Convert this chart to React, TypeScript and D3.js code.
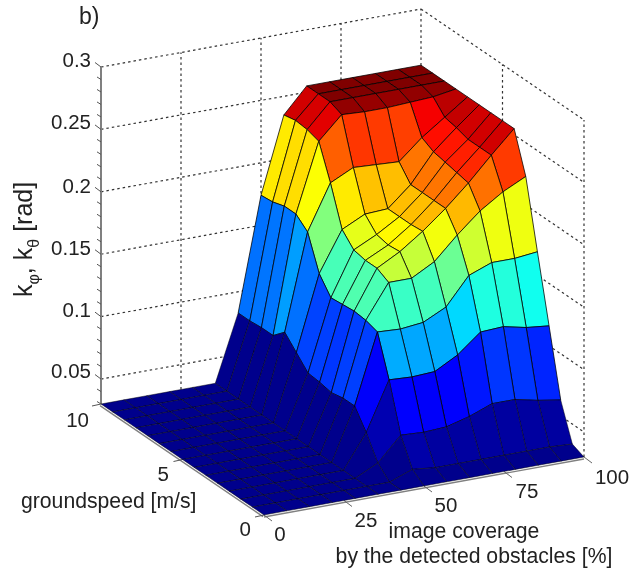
import React from "react";
import * as d3 from "d3";

const coverage = [0, 7.14, 14.29, 21.43, 28.57, 35.71, 42.86, 50, 57.14, 64.29, 71.43, 78.57, 85.71, 92.86, 100];
const speed = [0, 0.714, 1.429, 2.143, 2.857, 3.571, 4.286, 5, 5.714, 6.429, 7.143, 7.857, 8.571, 9.286, 10];

const F = 0.03;
const row0 = [F, F, F, F, F, F, F, F, F, F, F, F, F, F, F];
const row1 = [F, F, F, F, F, F, 0.03, 0.037, 0.035, 0.035, 0.035, 0.035, 0.035, 0.035, 0.034];
const row2 = [F, F, F, F, F, F, 0.039, 0.058, 0.057, 0.058, 0.063, 0.07, 0.07, 0.066, 0.063];
const row3 = [F, F, F, F, F, F, 0.057, 0.096, 0.095, 0.096, 0.106, 0.121, 0.122, 0.118, 0.116];
const row4 = [F, F, F, F, F, F, 0.072, 0.128, 0.127, 0.129, 0.138, 0.16, 0.167, 0.167, 0.169];
const row5 = [F, F, F, F, F, F, 0.072, 0.131, 0.158, 0.158, 0.168, 0.186, 0.202, 0.214, 0.223];
const row6 = [F, F, F, F, F, F, 0.07, 0.132, 0.163, 0.173, 0.186, 0.201, 0.218, 0.237, 0.255];
const row7 = [F, F, F, F, F, F, 0.072, 0.131, 0.163, 0.172, 0.185, 0.201, 0.22, 0.237, 0.255];
const row8 = [F, F, F, F, F, F, 0.073, 0.13, 0.165, 0.174, 0.185, 0.201, 0.222, 0.237, 0.255];
const row9 = [F, F, F, F, F, F, 0.083, 0.143, 0.175, 0.184, 0.185, 0.201, 0.224, 0.24, 0.255];
const row10 = [F, F, F, F, F, F, 0.093, 0.17, 0.206, 0.215, 0.214, 0.213, 0.229, 0.242, 0.255];
const row11 = [F, F, F, F, F, F, 0.084, 0.178, 0.233, 0.251, 0.25, 0.25, 0.251, 0.252, 0.255];
const row12 = [F, F, F, F, F, F, 0.084, 0.178, 0.236, 0.255, 0.255, 0.255, 0.255, 0.255, 0.255];
const row13 = [F, F, F, F, F, F, 0.083, 0.175, 0.237, 0.255, 0.255, 0.255, 0.255, 0.255, 0.255];
const row14 = [F, F, F, F, F, F, 0.083, 0.174, 0.235, 0.255, 0.255, 0.255, 0.255, 0.255, 0.255];
const surface = [row0, row1, row2, row3, row4, row5, row6, row7, row8, row9, row10, row11, row12, row13, row14];

const xTicks = [0, 25, 50, 75, 100];
const yTicks = [0, 5, 10];
const zMajor = [0.05, 0.1, 0.15, 0.2, 0.25, 0.3];
const zMinor = [0.03, 0.04, 0.06, 0.07, 0.08, 0.09, 0.11, 0.12, 0.13, 0.14, 0.16, 0.17, 0.18, 0.19, 0.21, 0.22, 0.23, 0.24, 0.26, 0.27, 0.28, 0.29];
const zLabels = ["0.05", "0.1", "0.15", "0.2", "0.25", "0.3"];

const cMin = 0.03;
const cMax = 0.255;
const jet = d3
  .scaleLinear<string>()
  .domain([0, 0.125, 0.375, 0.625, 0.875, 1].map((t) => cMin + t * (cMax - cMin)))
  .range(["rgb(0,0,140)", "rgb(0,0,255)", "rgb(0,255,255)", "rgb(255,255,0)", "rgb(255,0,0)", "rgb(128,0,0)"])
  .clamp(true);

const xDX = d3.scaleLinear().domain([0, 100]).range([264, 584]);
const xDY = d3.scaleLinear().domain([0, 100]).range([515, 457]);
const yDX = d3.scaleLinear().domain([0, 10]).range([0, -163]);
const yDY = d3.scaleLinear().domain([0, 10]).range([0, -111]);
const zDY = d3.scaleLinear().domain([0.03, 0.3]).range([0, -337]);

function P(x: number, y: number, z: number): [number, number] {
  return [xDX(x) + yDX(y), xDY(x) + yDY(y) + zDY(z)];
}
const line = d3.line();
const Z0 = 0.03;
const Z1 = 0.3;
const FONT = "'Liberation Sans', Arial, sans-serif";

function Seg({ a, b, dash, color, w }: any) {
  return <path d={line([a, b]) as string} fill="none" stroke={color} strokeWidth={w} strokeDasharray={dash} />;
}
function off(p: [number, number], dx: number, dy: number): [number, number] {
  return [p[0] + dx, p[1] + dy];
}

export default function App() {
  const cells: React.ReactNode[] = [];
  for (let i = coverage.length - 2; i >= 0; i--) {
    for (let j = speed.length - 2; j >= 0; j--) {
      const pts = [
        P(coverage[i], speed[j], surface[j][i]),
        P(coverage[i + 1], speed[j], surface[j][i + 1]),
        P(coverage[i + 1], speed[j + 1], surface[j + 1][i + 1]),
        P(coverage[i], speed[j + 1], surface[j + 1][i]),
      ];
      cells.push(
        <path
          key={`${i}-${j}`}
          d={(line(pts) as string) + "Z"}
          fill={jet(surface[j][i])}
          stroke="#000"
          strokeOpacity={surface[j][i] < 0.04 ? 0.5 : 0.85}
          strokeWidth={0.9}
          strokeLinejoin="round"
        />
      );
    }
  }
  const grid = "#333";
  const dash = "2.5 3";
  const axis = "#808080";
  const ty = (z: number) => P(0, 10, z);
  const numSize = 20.5;
  const labelSize = 21.2;
  return (
    <svg
      width={630}
      height={571}
      viewBox="0 0 630 571"
      style={{ position: "absolute", left: 0, top: 0, filter: "blur(0.5px)" }}
      fontFamily={FONT}
      fill="#222"
    >
      <rect width={630} height={571} fill="#fff" />
      {zMajor.map((z) => (
        <g key={z}>
          <Seg a={P(0, 10, z)} b={P(100, 10, z)} dash={dash} color={grid} w={1.2} />
          <Seg a={P(100, 10, z)} b={P(100, 0, z)} dash={dash} color={grid} w={1.2} />
        </g>
      ))}
      {xTicks.slice(1).map((x) => (
        <Seg key={x} a={P(x, 10, Z0)} b={P(x, 10, Z1)} dash={dash} color={grid} w={1.2} />
      ))}
      <Seg a={P(100, 5, Z0)} b={P(100, 5, Z1)} dash={dash} color={grid} w={1.2} />
      <Seg a={P(100, 0, Z0)} b={P(100, 0, Z1)} dash={dash} color={grid} w={1.2} />

      <Seg a={P(0, 10, Z0)} b={P(0, 10, Z1)} color={axis} w={2} />
      <Seg a={off(P(0, 10, Z0), -1, 1.6)} b={off(P(0, 0, Z0), -1, 1.6)} color={axis} w={1.4} />
      <Seg a={off(P(0, 0, Z0), 0, 2)} b={off(P(100, 0, Z0), 0, 2)} color={axis} w={1.4} />
      {zMajor.map((z) => {
        const a = ty(z);
        return <Seg key={z} a={a} b={[a[0] - 6, a[1] - 4.5]} color="#555" w={1} />;
      })}
      {zMinor.map((z) => {
        const a = ty(z);
        return <Seg key={z} a={a} b={[a[0] - 4, a[1] - 2.5]} color="#555" w={1} />;
      })}
      {xTicks.map((x) => {
        const a = P(x, 0, Z0);
        return <Seg key={x} a={a} b={[a[0] + 8, a[1] + 6]} color="#666" w={1} />;
      })}
      {yTicks.map((y) => {
        const a = P(0, y, Z0);
        return <Seg key={y} a={a} b={[a[0] - 9, a[1] + 2]} color="#555" w={1} />;
      })}

      {cells}

      {zLabels.map((t, k) => (
        <text key={t} x={91} y={[378, 317, 255, 193, 129, 67][k]} textAnchor="end" fontSize={numSize}>
          {t}
        </text>
      ))}
      {xTicks.map((x, k) => (
        <text key={x} x={[280, 366, 446, 527, 612][k]} y={[541, 527, 512, 498, 484][k]} textAnchor="middle" fontSize={numSize}>
          {x}
        </text>
      ))}
      {yTicks.map((y, k) => (
        <text key={y} x={[251, 169, 89][k]} y={[536, 481, 427][k]} textAnchor="end" fontSize={numSize}>
          {y}
        </text>
      ))}

      <text x={79} y={24} fontSize={23}>b)</text>
      <text x={21} y={508} fontSize={labelSize}>groundspeed [m/s]</text>
      <text x={464} y={538} textAnchor="middle" fontSize={labelSize}>image coverage</text>
      <text x={474} y={563} textAnchor="middle" fontSize={labelSize}>by the detected obstacles [%]</text>
      <text transform="translate(32,297) rotate(-90)" fontSize={25}>
        k
        <tspan dy={7} fontSize={16}>φ</tspan>
        <tspan dy={-7}>, k</tspan>
        <tspan dy={7} fontSize={16}>θ</tspan>
        <tspan dy={-7}> [rad]</tspan>
      </text>
    </svg>
  );
}
